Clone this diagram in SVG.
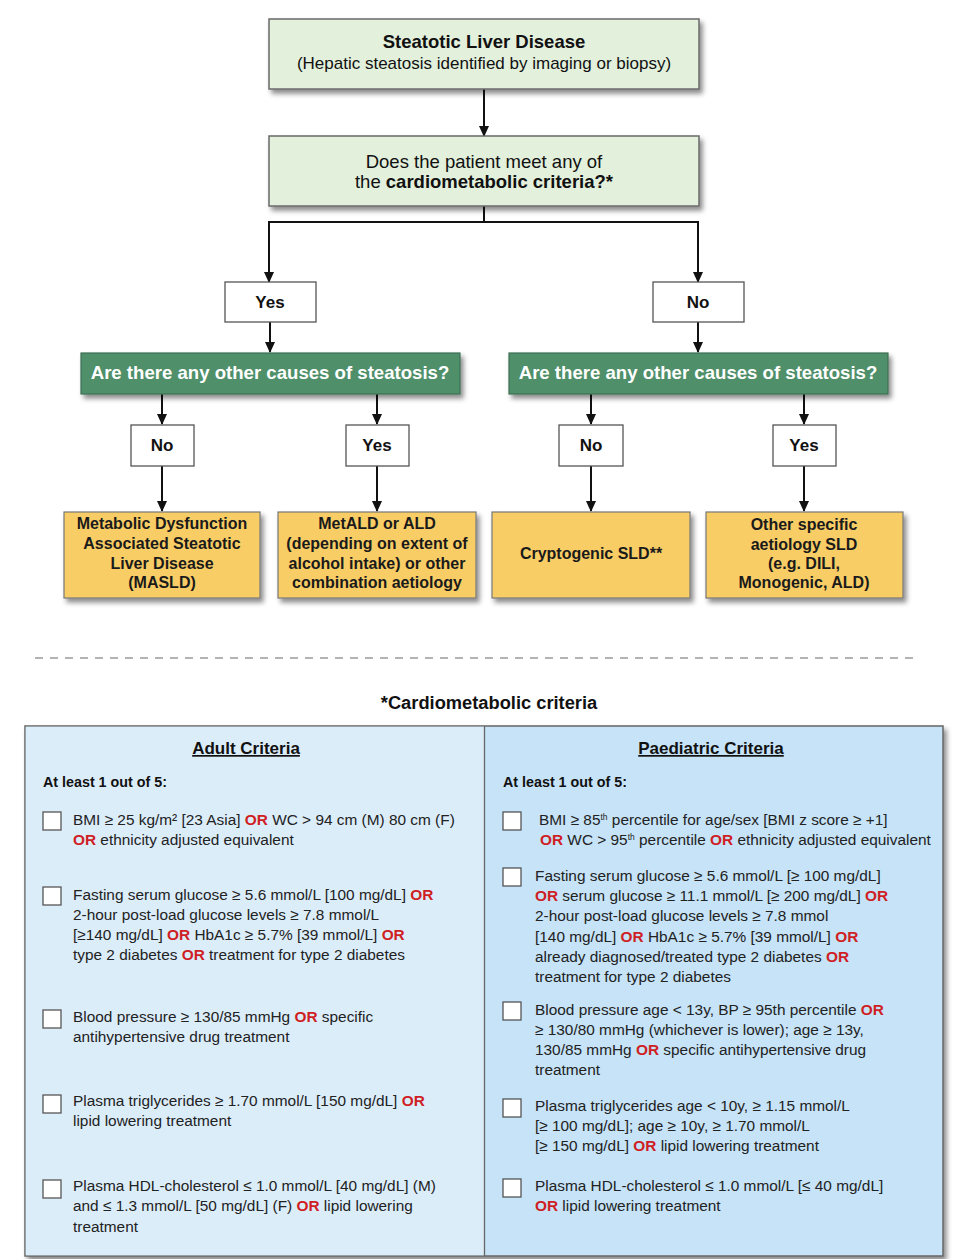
<svg xmlns="http://www.w3.org/2000/svg" width="957" height="1259" viewBox="0 0 957 1259">
<defs>
<filter id="sh" x="-10%" y="-10%" width="125%" height="140%">
<feDropShadow dx="3" dy="4" stdDeviation="2.5" flood-color="#000" flood-opacity="0.45"/>
</filter>
<marker id="arr" markerWidth="12" markerHeight="12" refX="10" refY="6" orient="auto" markerUnits="userSpaceOnUse">
<path d="M0,1 L11,6 L0,11 Z" fill="#111"/>
</marker>
<style>
text{font-family:"Liberation Sans",Arial,sans-serif;fill:#111}
.b{font-weight:bold}
.gbox{fill:#e3f0dc;stroke:#6a6a6a;stroke-width:1.5}
.wbox{fill:#fff;stroke:#555;stroke-width:1.3}
.grn{fill:#4f8f6b;stroke:#3c6f52;stroke-width:1.2}
.ylw{fill:#f9cd66;stroke:#777;stroke-width:1.2}
.yn{font-size:17px;font-weight:bold;text-anchor:middle}
.gt{font-size:18.6px;font-weight:bold;fill:#fff;text-anchor:middle}
.yt{font-size:16px;font-weight:bold;text-anchor:middle;fill:#1a1a1a}
.c{font-size:15.4px;fill:#222}
.or{fill:#cf1f25;font-weight:bold}
.cb{fill:#fff;stroke:#555;stroke-width:1.3}
.conn{stroke:#111;stroke-width:2;fill:none}
</style>
</defs>
<rect width="957" height="1259" fill="#fff"/>

<g id="connectors">
<line class="conn" x1="484" y1="89" x2="484" y2="136" marker-end="url(#arr)"/>
<polyline class="conn" points="484,206 484,222"/>
<line class="conn" x1="268" y1="222" x2="699" y2="222"/>
<line class="conn" x1="269" y1="221" x2="269" y2="282" marker-end="url(#arr)"/>
<line class="conn" x1="698" y1="221" x2="698" y2="282" marker-end="url(#arr)"/>
<line class="conn" x1="270" y1="322" x2="270" y2="352" marker-end="url(#arr)"/>
<line class="conn" x1="698" y1="322" x2="698" y2="352" marker-end="url(#arr)"/>
<line class="conn" x1="162" y1="394" x2="162" y2="424" marker-end="url(#arr)"/>
<line class="conn" x1="377" y1="394" x2="377" y2="424" marker-end="url(#arr)"/>
<line class="conn" x1="591" y1="394" x2="591" y2="424" marker-end="url(#arr)"/>
<line class="conn" x1="804" y1="394" x2="804" y2="424" marker-end="url(#arr)"/>
<line class="conn" x1="162" y1="466" x2="162" y2="511" marker-end="url(#arr)"/>
<line class="conn" x1="377" y1="466" x2="377" y2="511" marker-end="url(#arr)"/>
<line class="conn" x1="591" y1="466" x2="591" y2="511" marker-end="url(#arr)"/>
<line class="conn" x1="804" y1="466" x2="804" y2="511" marker-end="url(#arr)"/>
</g>

<g id="sld">
<rect class="gbox" x="269" y="19" width="430" height="70" filter="url(#sh)"/>
<text class="b" x="484" y="48" font-size="18.5" text-anchor="middle">Steatotic Liver Disease</text>
<text x="484" y="69" font-size="17" text-anchor="middle">(Hepatic steatosis identified by imaging or biopsy)</text>
</g>

<g id="q1">
<rect class="gbox" x="269" y="136" width="430" height="70" filter="url(#sh)"/>
<text x="484" y="168" font-size="18.5" text-anchor="middle">Does the patient meet any of</text>
<text x="484" y="188" font-size="18.5" text-anchor="middle">the <tspan class="b">cardiometabolic criteria?*</tspan></text>
</g>

<g id="yes1">
<rect class="wbox" x="225" y="282" width="91" height="40"/>
<text class="yn" x="270" y="308">Yes</text>
</g>
<g id="no1">
<rect class="wbox" x="653" y="282" width="91" height="40"/>
<text class="yn" x="698" y="308">No</text>
</g>

<g id="q2left">
<rect class="grn" x="81" y="353" width="379" height="41" filter="url(#sh)"/>
<text class="gt" x="270" y="379">Are there any other causes of steatosis?</text>
</g>
<g id="q2right">
<rect class="grn" x="509" y="353" width="379" height="41" filter="url(#sh)"/>
<text class="gt" x="698" y="379">Are there any other causes of steatosis?</text>
</g>

<g id="no2a">
<rect class="wbox" x="131" y="425" width="63" height="41"/>
<text class="yn" x="162" y="451">No</text>
</g>
<g id="yes2a">
<rect class="wbox" x="346" y="425" width="63" height="41"/>
<text class="yn" x="377" y="451">Yes</text>
</g>
<g id="no2b">
<rect class="wbox" x="559" y="425" width="64" height="41"/>
<text class="yn" x="591" y="451">No</text>
</g>
<g id="yes2b">
<rect class="wbox" x="773" y="425" width="63" height="41"/>
<text class="yn" x="804" y="451">Yes</text>
</g>

<g id="masld">
<rect class="ylw" x="64" y="512" width="196" height="86" filter="url(#sh)"/>
<text class="yt" x="162" y="529">Metabolic Dysfunction</text>
<text class="yt" x="162" y="549">Associated Steatotic</text>
<text class="yt" x="162" y="569">Liver Disease</text>
<text class="yt" x="162" y="588">(MASLD)</text>
</g>
<g id="metald">
<rect class="ylw" x="278" y="512" width="198" height="86" filter="url(#sh)"/>
<text class="yt" x="377" y="529">MetALD or ALD</text>
<text class="yt" x="377" y="549">(depending on extent of</text>
<text class="yt" x="377" y="569">alcohol intake) or other</text>
<text class="yt" x="377" y="588">combination aetiology</text>
</g>
<g id="crypto">
<rect class="ylw" x="492" y="512" width="198" height="86" filter="url(#sh)"/>
<text class="yt" x="591" y="559">Cryptogenic SLD**</text>
</g>
<g id="other">
<rect class="ylw" x="706" y="512" width="197" height="86" filter="url(#sh)"/>
<text class="yt" x="804" y="530">Other specific</text>
<text class="yt" x="804" y="550">aetiology SLD</text>
<text class="yt" x="804" y="569">(e.g. DILI,</text>
<text class="yt" x="804" y="588">Monogenic, ALD)</text>
</g>

<line x1="35" y1="658" x2="920" y2="658" stroke="#9a9a9a" stroke-width="1.5" stroke-dasharray="8,7"/>
<text class="b" x="489" y="709" font-size="18.3" text-anchor="middle">*Cardiometabolic criteria</text>

<g id="criteria">
<rect x="25" y="726" width="918" height="530" fill="#c6e3f8" stroke="#666" stroke-width="1.5" filter="url(#sh)"/>
<rect x="25.75" y="726.75" width="458.5" height="528.5" fill="#dcedfa"/>
<line x1="484.5" y1="726" x2="484.5" y2="1256" stroke="#666" stroke-width="1.3"/>
</g>

<g id="adult">
<text class="b" x="246" y="754" font-size="17" text-anchor="middle" text-decoration="underline">Adult Criteria</text>
<text class="b" x="43" y="787" font-size="14.3">At least 1 out of 5:</text>
<rect class="cb" x="43" y="812" width="18" height="18"/>
<text class="c" x="73" y="825">BMI ≥ 25 kg/m² [23 Asia] <tspan class="or">OR</tspan> WC &gt; 94 cm (M) 80 cm (F)</text>
<text class="c" x="73" y="845"><tspan class="or">OR</tspan> ethnicity adjusted equivalent</text>
<rect class="cb" x="43" y="887" width="18" height="18"/>
<text class="c" x="73" y="900">Fasting serum glucose ≥ 5.6 mmol/L [100 mg/dL] <tspan class="or">OR</tspan></text>
<text class="c" x="73" y="920">2-hour post-load glucose levels ≥ 7.8 mmol/L</text>
<text class="c" x="73" y="940">[≥140 mg/dL] <tspan class="or">OR</tspan> HbA1c ≥ 5.7% [39 mmol/L] <tspan class="or">OR</tspan></text>
<text class="c" x="73" y="960">type 2 diabetes <tspan class="or">OR</tspan> treatment for type 2 diabetes</text>
<rect class="cb" x="43" y="1010" width="18" height="18"/>
<text class="c" x="73" y="1022">Blood pressure ≥ 130/85 mmHg <tspan class="or">OR</tspan> specific</text>
<text class="c" x="73" y="1042">antihypertensive drug treatment</text>
<rect class="cb" x="43" y="1095" width="18" height="18"/>
<text class="c" x="73" y="1106">Plasma triglycerides ≥ 1.70 mmol/L  [150 mg/dL] <tspan class="or">OR</tspan></text>
<text class="c" x="73" y="1126">lipid lowering treatment</text>
<rect class="cb" x="43" y="1180" width="18" height="18"/>
<text class="c" x="73" y="1191">Plasma HDL-cholesterol ≤ 1.0 mmol/L [40 mg/dL] (M)</text>
<text class="c" x="73" y="1211">and ≤ 1.3 mmol/L [50 mg/dL] (F) <tspan class="or">OR</tspan> lipid lowering</text>
<text class="c" x="73" y="1232">treatment</text>
</g>

<g id="paediatric">
<text class="b" x="711" y="754" font-size="17" text-anchor="middle" text-decoration="underline">Paediatric Criteria</text>
<text class="b" x="503" y="787" font-size="14.3">At least 1 out of 5:</text>
<rect class="cb" x="503" y="812" width="18" height="18"/>
<text class="c" x="539" y="825">BMI ≥ 85<tspan font-size="8.5" dy="-5">th</tspan><tspan dy="5"> percentile for age/sex [BMI z score ≥ +1]</tspan></text>
<text class="c" x="540" y="845"><tspan class="or">OR</tspan> WC &gt; 95<tspan font-size="8.5" dy="-5">th</tspan><tspan dy="5"> percentile </tspan><tspan class="or">OR</tspan> ethnicity adjusted equivalent</text>
<rect class="cb" x="503" y="868" width="18" height="18"/>
<text class="c" x="535" y="881">Fasting serum glucose ≥ 5.6 mmol/L [≥ 100 mg/dL]</text>
<text class="c" x="535" y="901"><tspan class="or">OR</tspan> serum glucose ≥ 11.1 mmol/L [≥ 200 mg/dL] <tspan class="or">OR</tspan></text>
<text class="c" x="535" y="921">2-hour post-load glucose levels ≥ 7.8 mmol</text>
<text class="c" x="535" y="942">[140 mg/dL] <tspan class="or">OR</tspan> HbA1c ≥ 5.7% [39 mmol/L] <tspan class="or">OR</tspan></text>
<text class="c" x="535" y="962">already diagnosed/treated type 2 diabetes <tspan class="or">OR</tspan></text>
<text class="c" x="535" y="982">treatment for type 2 diabetes</text>
<rect class="cb" x="503" y="1002" width="18" height="18"/>
<text class="c" x="535" y="1015">Blood pressure age &lt; 13y, BP ≥  95th percentile <tspan class="or">OR</tspan></text>
<text class="c" x="535" y="1035">≥ 130/80 mmHg (whichever is lower); age ≥ 13y,</text>
<text class="c" x="535" y="1055">130/85 mmHg <tspan class="or">OR</tspan> specific antihypertensive drug</text>
<text class="c" x="535" y="1075">treatment</text>
<rect class="cb" x="503" y="1099" width="18" height="18"/>
<text class="c" x="535" y="1111">Plasma triglycerides age &lt; 10y, ≥ 1.15 mmol/L</text>
<text class="c" x="535" y="1131">[≥ 100 mg/dL]; age ≥ 10y, ≥ 1.70 mmol/L</text>
<text class="c" x="535" y="1151">[≥ 150 mg/dL] <tspan class="or">OR</tspan> lipid lowering treatment</text>
<rect class="cb" x="503" y="1179" width="18" height="18"/>
<text class="c" x="535" y="1191">Plasma HDL-cholesterol ≤ 1.0 mmol/L [≤ 40 mg/dL]</text>
<text class="c" x="535" y="1211"><tspan class="or">OR</tspan> lipid lowering treatment</text>
</g>
</svg>
